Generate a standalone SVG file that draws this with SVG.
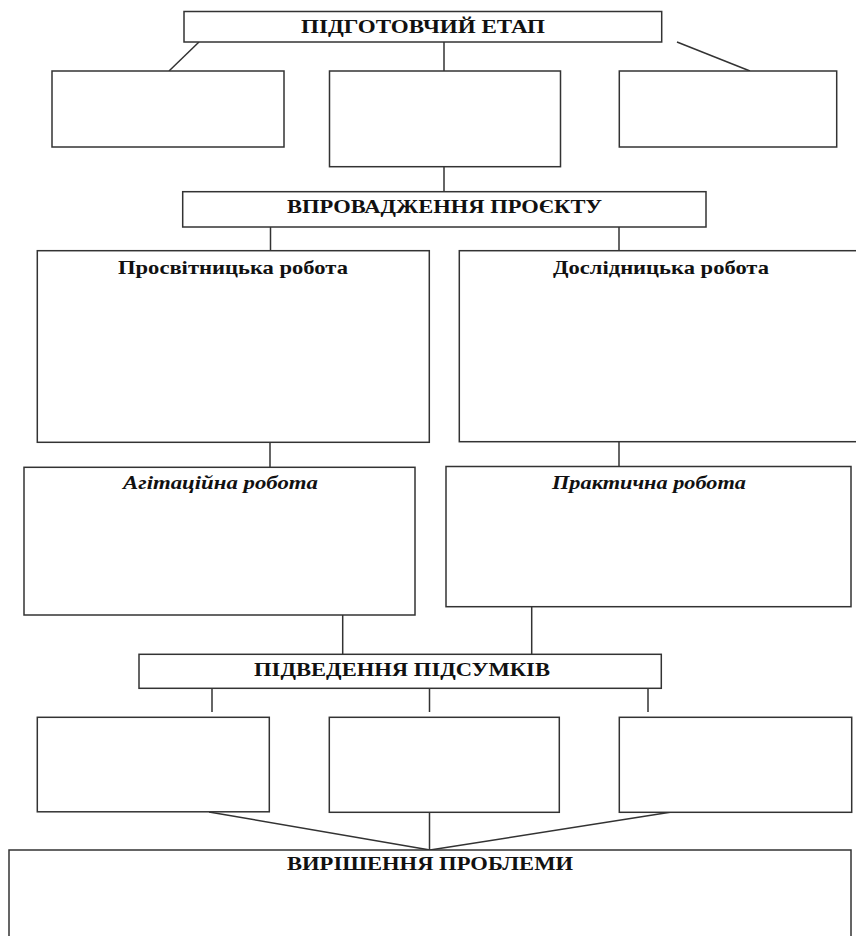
<svg xmlns="http://www.w3.org/2000/svg" width="856" height="936" viewBox="0 0 856 936">
<style>
.box{fill:#fff;stroke:#333;stroke-width:1.5}
.ln{stroke:#333;stroke-width:1.5;fill:none}
.t{font-family:"Liberation Serif","Times New Roman",serif;font-weight:bold;font-size:19px;fill:#111;text-anchor:middle}
.i{font-style:italic}
</style>
<rect width="856" height="936" fill="#fff"/>
<g id="connectors">
<line class="ln" x1="199" y1="42" x2="169" y2="71"/>
<line class="ln" x1="444" y1="42" x2="444" y2="71"/>
<line class="ln" x1="677" y1="42" x2="750" y2="71"/>
<line class="ln" x1="444" y1="167" x2="444" y2="192"/>
<line class="ln" x1="270.5" y1="227" x2="270.5" y2="251"/>
<line class="ln" x1="619" y1="227" x2="619" y2="251"/>
<line class="ln" x1="270" y1="442" x2="270" y2="467"/>
<line class="ln" x1="619" y1="442" x2="619" y2="466"/>
<line class="ln" x1="342.7" y1="615" x2="342.7" y2="654"/>
<line class="ln" x1="531.7" y1="607" x2="531.7" y2="654"/>
<line class="ln" x1="212" y1="688" x2="212" y2="712"/>
<line class="ln" x1="429.5" y1="688" x2="429.5" y2="712"/>
<line class="ln" x1="648" y1="688" x2="648" y2="712"/>
<line class="ln" x1="209" y1="812" x2="430" y2="850"/>
<line class="ln" x1="429.5" y1="812" x2="429.5" y2="850"/>
<line class="ln" x1="671.7" y1="812" x2="430" y2="850"/>
</g>
<g id="n-prep">
<rect class="box" x="184" y="11.5" width="477.7" height="30.5"/>
<text class="t" x="423" y="32.5" textLength="244" lengthAdjust="spacingAndGlyphs">ПІДГОТОВЧИЙ ЕТАП</text>
</g>
<g id="n-prep-left"><rect class="box" x="52" y="71" width="232" height="76"/></g>
<g id="n-prep-mid"><rect class="box" x="329.5" y="71" width="231" height="95.7"/></g>
<g id="n-prep-right"><rect class="box" x="619.3" y="71" width="217.4" height="76"/></g>
<g id="n-impl">
<rect class="box" x="182.7" y="191.7" width="523.3" height="35.3"/>
<text class="t" x="444.5" y="213.3" textLength="315" lengthAdjust="spacingAndGlyphs">ВПРОВАДЖЕННЯ ПРОЄКТУ</text>
</g>
<g id="n-edu">
<rect class="box" x="37.3" y="250.7" width="392" height="191.6"/>
<text class="t" x="233" y="273.5" textLength="230" lengthAdjust="spacingAndGlyphs">Просвітницька робота</text>
</g>
<g id="n-research">
<rect class="box" x="459.3" y="250.7" width="398" height="191"/>
<text class="t" x="661" y="274" textLength="216" lengthAdjust="spacingAndGlyphs">Дослідницька робота</text>
</g>
<g id="n-agit">
<rect class="box" x="24" y="467.3" width="391" height="147.7"/>
<text class="t i" x="220.5" y="489.3" textLength="195" lengthAdjust="spacingAndGlyphs">Агітаційна робота</text>
</g>
<g id="n-practice">
<rect class="box" x="446" y="466.5" width="405" height="140.2"/>
<text class="t i" x="649" y="489.3" textLength="194" lengthAdjust="spacingAndGlyphs">Практична робота</text>
</g>
<g id="n-summary">
<rect class="box" x="139" y="654.3" width="522.3" height="34"/>
<text class="t" x="402" y="676" textLength="296" lengthAdjust="spacingAndGlyphs">ПІДВЕДЕННЯ ПІДСУМКІВ</text>
</g>
<g id="n-sum-left"><rect class="box" x="37.3" y="717.3" width="232" height="94.5"/></g>
<g id="n-sum-mid"><rect class="box" x="329.3" y="717.3" width="230" height="95"/></g>
<g id="n-sum-right"><rect class="box" x="619.3" y="717.3" width="232.4" height="95"/></g>
<g id="n-solve">
<rect class="box" x="9" y="850" width="842" height="100"/>
<text class="t" x="430" y="870" textLength="286" lengthAdjust="spacingAndGlyphs">ВИРІШЕННЯ ПРОБЛЕМИ</text>
</g>
</svg>
